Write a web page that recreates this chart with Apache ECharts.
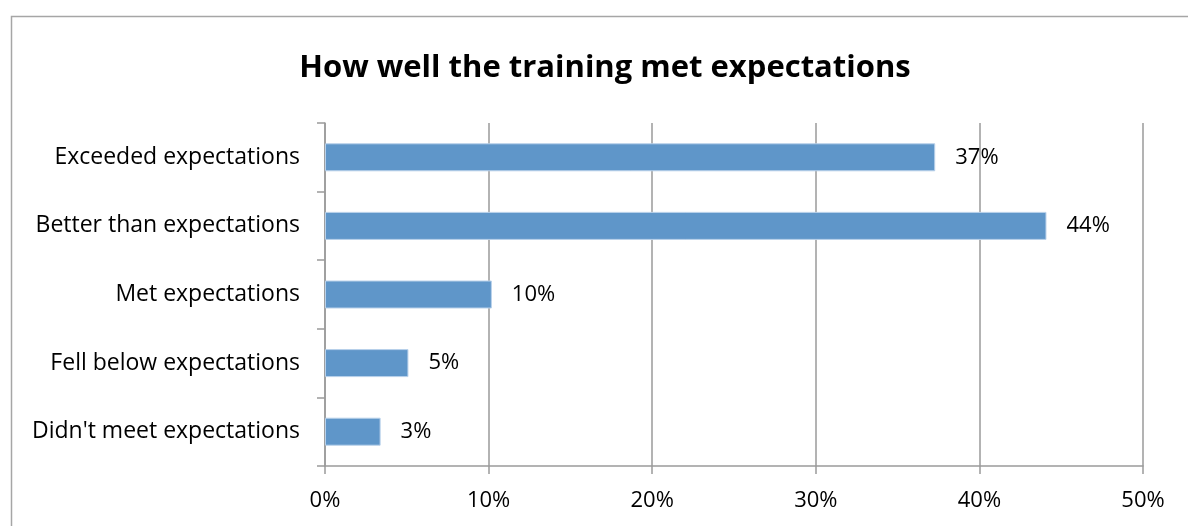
<!DOCTYPE html>
<html>
<head>
<meta charset="utf-8">
<script src="https://cdn.jsdelivr.net/npm/echarts@6/dist/echarts.min.js"></script>
<style>html,body{margin:0;padding:0;background:#fff}#c{width:1188px;height:526px}</style>
</head>
<body>
<div id="c"></div>
<script>
const categories = ["Exceeded expectations", "Better than expectations", "Met expectations", "Fell below expectations", "Didn't meet expectations"];
const values = [37.3, 44.1, 10.2, 5.1, 3.4];
const xTicks = [0, 10, 20, 30, 40, 50];
const titleText = "How well the training met expectations";

const FONT = "'Open Sans', sans-serif";
const chart = echarts.init(document.getElementById('c'), null, {renderer: 'canvas'});
chart.setOption({
  animation: false,
  backgroundColor: '#fff',
  graphic: [{
    type: 'rect', left: 9, top: 14, shape: {x: 0, y: 0, width: 1300, height: 700},
    style: {fill: 'none', stroke: '#a6a6a6', lineWidth: 1.5}, silent: true, z: -1
  }],
  title: {
    text: titleText, left: 600, top: 48, textAlign: 'center',
    textStyle: {fontFamily: FONT, fontWeight: 'bold', fontSize: 31, color: '#000'}
  },
  grid: {left: 325, right: 45, top: 123, bottom: 60, containLabel: false},
  xAxis: {
    type: 'value', min: xTicks[0], max: xTicks[xTicks.length - 1], interval: 10,
    axisLine: {show: true, lineStyle: {color: '#9a9a9a', width: 1.5}},
    axisTick: {show: true, length: 8, lineStyle: {color: '#9a9a9a', width: 1.5}},
    splitLine: {show: true, lineStyle: {color: '#9a9a9a', width: 1.5}},
    axisLabel: {formatter: v => v + '%', fontFamily: FONT, fontSize: 22, color: '#000', margin: 24}
  },
  yAxis: {
    type: 'category', data: categories, inverse: true,
    axisLine: {show: true, lineStyle: {color: '#9a9a9a', width: 1.5}},
    axisTick: {show: true, length: 8, lineStyle: {color: '#9a9a9a', width: 1.5}},
    axisLabel: {fontFamily: FONT, fontSize: 23, color: '#000', margin: 25, padding: [7, 0, 0, 0]}
  },
  series: [{
    type: 'bar', data: values, barWidth: 28,
    itemStyle: {color: '#5f96c9', borderColor: '#b9d1ea', borderWidth: 1},
    label: {
      show: true, position: 'right', distance: 20,
      formatter: p => Math.round(p.value) + '%',
      fontFamily: FONT, fontSize: 22, color: '#000', padding: [7, 0, 0, 0]
    }
  }]
});
</script>
</body>
</html>
